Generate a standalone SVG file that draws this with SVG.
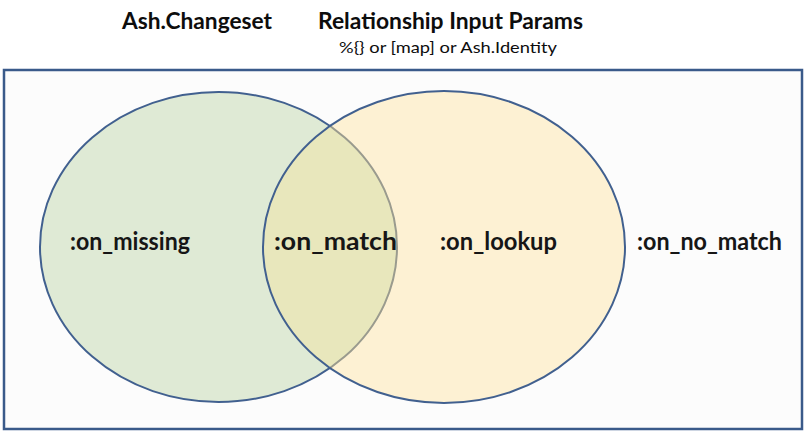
<svg xmlns="http://www.w3.org/2000/svg" width="807" height="433" viewBox="0 0 807 433">
  <style>
    .title { font-family: Lato, "Open Sans", "Liberation Sans", sans-serif; font-weight: 700; font-size: 23px; fill: #0d0d0d; }
    .sub { font-family: Lato, "Open Sans", "Liberation Sans", sans-serif; font-weight: 400; font-size: 16px; fill: #0d0d0d; }
    .label { font-family: Lato, "Open Sans", "Liberation Sans", sans-serif; font-weight: 700; font-size: 24px; fill: #161616; }
    .edge { fill: none; stroke: #41608f; stroke-width: 2; }
  </style>
  <defs>
    <clipPath id="inYellow">
      <ellipse cx="444" cy="247" rx="181" ry="156"/>
    </clipPath>
    <mask id="outYellow">
      <rect x="0" y="0" width="807" height="433" fill="#fff"/>
      <ellipse cx="444" cy="247" rx="181" ry="156" fill="#000"/>
    </mask>
  </defs>

  <!-- headers -->
  <g id="header">
    <text class="title" x="122" y="29" textLength="150" lengthAdjust="spacingAndGlyphs">Ash.Changeset</text>
    <text class="title" x="318" y="29" textLength="265" lengthAdjust="spacingAndGlyphs">Relationship Input Params</text>
    <text class="sub" x="339" y="53" textLength="218" lengthAdjust="spacingAndGlyphs">%{} or [map] or Ash.Identity</text>
  </g>

  <!-- universe frame -->
  <g id="universe">
    <rect x="4" y="70" width="798" height="359" fill="#fcfcfc" stroke="#3a5a8a" stroke-width="2.5"/>
  </g>

  <!-- changeset set -->
  <g id="changeset">
    <ellipse cx="218.5" cy="247" rx="178.5" ry="155" fill="#dfead5"/>
  </g>

  <!-- input params set -->
  <g id="params">
    <ellipse cx="444" cy="247" rx="181" ry="156" fill="#fdf1d3"/>
  </g>

  <!-- intersection region -->
  <g id="overlap">
    <ellipse cx="218.5" cy="247" rx="178.5" ry="155" fill="#e8e7bc" clip-path="url(#inYellow)"/>
  </g>

  <!-- outlines -->
  <g id="outlines">
    <ellipse class="edge" cx="218.5" cy="247" rx="178.5" ry="155" mask="url(#outYellow)"/>
    <ellipse cx="218.5" cy="247" rx="178.5" ry="155" fill="none" stroke="#9a9b8e" stroke-width="2" clip-path="url(#inYellow)"/>
    <ellipse class="edge" cx="444" cy="247" rx="181" ry="156"/>
  </g>

  <!-- region labels -->
  <g id="on_missing"><text class="label" x="70" y="250" textLength="120" lengthAdjust="spacingAndGlyphs">:on_missing</text></g>
  <g id="on_match"><text class="label" x="274" y="250" textLength="123" lengthAdjust="spacingAndGlyphs">:on_match</text></g>
  <g id="on_lookup"><text class="label" x="440" y="250" textLength="117" lengthAdjust="spacingAndGlyphs">:on_lookup</text></g>
  <g id="on_no_match"><text class="label" x="637" y="250" textLength="145" lengthAdjust="spacingAndGlyphs">:on_no_match</text></g>
</svg>
